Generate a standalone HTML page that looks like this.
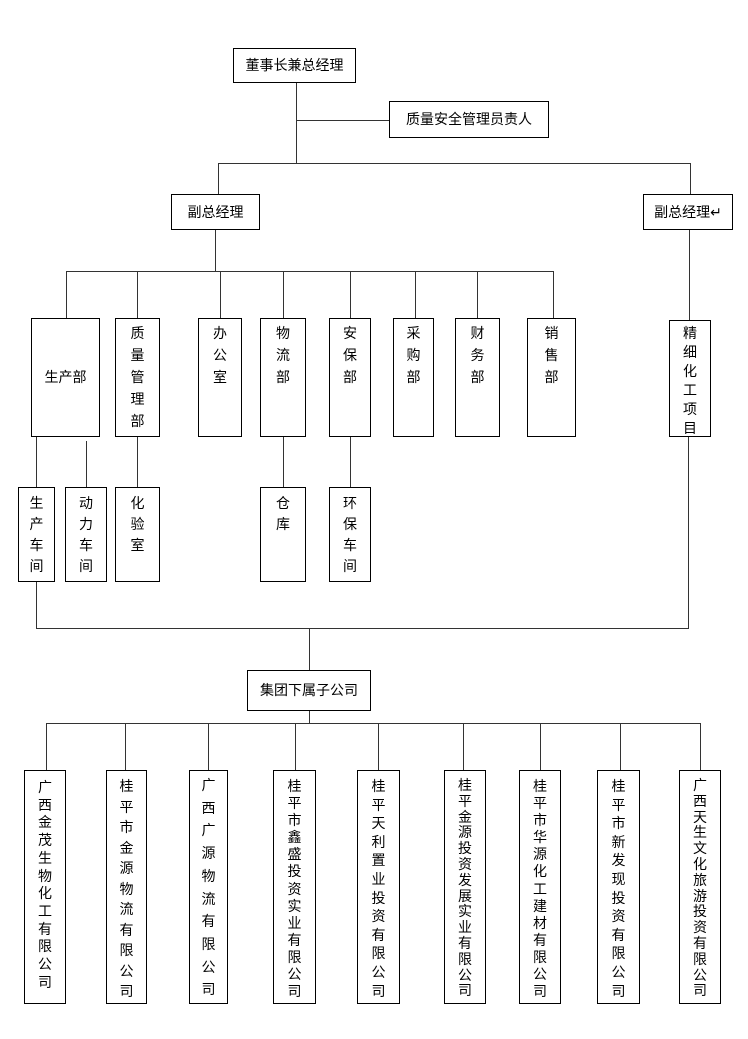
<!DOCTYPE html>
<html><head><meta charset="utf-8"><style>
body{margin:0;width:748px;height:1039px;background:#fff;position:relative;overflow:hidden;font-family:"Liberation Sans","Noto Sans CJK SC",sans-serif;font-size:14px;color:#000}
.b{position:absolute;border:1px solid #000;box-sizing:border-box;background:#fff;text-align:center}
.h{position:absolute;height:1px;background:#333}
.v{position:absolute;width:1px;background:#333}
.t{position:absolute;left:0;right:0;text-align:center}
</style></head><body>
<!-- lines -->
<div class="v" style="left:296px;top:82px;height:81px"></div>
<div class="h" style="left:296px;top:120px;width:93px"></div>
<div class="h" style="left:218px;top:163px;width:473px"></div>
<div class="v" style="left:218px;top:163px;height:31px"></div>
<div class="v" style="left:690px;top:163px;height:31px"></div>
<div class="v" style="left:215px;top:229px;height:42px"></div>
<div class="h" style="left:66px;top:271px;width:488px"></div>
<div class="v" style="left:66px;top:271px;height:47px"></div>
<div class="v" style="left:137px;top:271px;height:47px"></div>
<div class="v" style="left:220px;top:271px;height:47px"></div>
<div class="v" style="left:283px;top:271px;height:47px"></div>
<div class="v" style="left:350px;top:271px;height:47px"></div>
<div class="v" style="left:415px;top:271px;height:47px"></div>
<div class="v" style="left:477px;top:271px;height:47px"></div>
<div class="v" style="left:553px;top:271px;height:47px"></div>
<div class="v" style="left:689px;top:229px;height:91px"></div>
<div class="v" style="left:36px;top:436px;height:51px"></div>
<div class="v" style="left:86px;top:441px;height:46px"></div>
<div class="v" style="left:137px;top:436px;height:51px"></div>
<div class="v" style="left:283px;top:436px;height:51px"></div>
<div class="v" style="left:350px;top:436px;height:51px"></div>
<div class="v" style="left:36px;top:581px;height:47px"></div>
<div class="h" style="left:36px;top:628px;width:653px"></div>
<div class="v" style="left:688px;top:436px;height:192px"></div>
<div class="v" style="left:309px;top:628px;height:42px"></div>
<div class="v" style="left:309px;top:710px;height:13px"></div>
<div class="h" style="left:46px;top:723px;width:655px"></div>
<div class="v" style="left:46px;top:723px;height:47px"></div>
<div class="v" style="left:125px;top:723px;height:47px"></div>
<div class="v" style="left:208px;top:723px;height:47px"></div>
<div class="v" style="left:295px;top:723px;height:47px"></div>
<div class="v" style="left:378px;top:723px;height:47px"></div>
<div class="v" style="left:463px;top:723px;height:47px"></div>
<div class="v" style="left:540px;top:723px;height:47px"></div>
<div class="v" style="left:620px;top:723px;height:47px"></div>
<div class="v" style="left:700px;top:723px;height:47px"></div>

<!-- top boxes -->
<div class="b" style="left:233px;top:48px;width:123px;height:35px;line-height:33px">董事长兼总经理</div>
<div class="b" style="left:389px;top:101px;width:160px;height:37px;line-height:35px">质量安全管理员责人</div>
<div class="b" style="left:171px;top:194px;width:89px;height:36px;line-height:34px">副总经理</div>
<div class="b" style="left:643px;top:194px;width:90px;height:36px;line-height:34px">副总经理↵</div>

<!-- departments -->
<div class="b" style="left:31px;top:318px;width:69px;height:119px;line-height:117px">生产部</div>
<div class="b" style="left:115px;top:318px;width:45px;height:119px;line-height:22px;padding-top:3px">质<br>量<br>管<br>理<br>部</div>
<div class="b" style="left:198px;top:318px;width:44px;height:119px;line-height:22px;padding-top:3px">办<br>公<br>室</div>
<div class="b" style="left:260px;top:318px;width:46px;height:119px;line-height:22px;padding-top:3px">物<br>流<br>部</div>
<div class="b" style="left:329px;top:318px;width:42px;height:119px;line-height:22px;padding-top:3px">安<br>保<br>部</div>
<div class="b" style="left:393px;top:318px;width:41px;height:119px;line-height:22px;padding-top:3px">采<br>购<br>部</div>
<div class="b" style="left:455px;top:318px;width:45px;height:119px;line-height:22px;padding-top:3px">财<br>务<br>部</div>
<div class="b" style="left:527px;top:318px;width:49px;height:119px;line-height:22px;padding-top:3px">销<br>售<br>部</div>
<div class="b" style="left:669px;top:320px;width:42px;height:117px;line-height:19px;padding-top:3px">精<br>细<br>化<br>工<br>项<br>目</div>

<!-- sub -->
<div class="b" style="left:18px;top:487px;width:37px;height:95px;line-height:21px;padding-top:5px">生<br>产<br>车<br>间</div>
<div class="b" style="left:65px;top:487px;width:42px;height:95px;line-height:21px;padding-top:5px">动<br>力<br>车<br>间</div>
<div class="b" style="left:115px;top:487px;width:45px;height:95px;line-height:21px;padding-top:5px">化<br>验<br>室</div>
<div class="b" style="left:260px;top:487px;width:46px;height:95px;line-height:21px;padding-top:5px">仓<br>库</div>
<div class="b" style="left:329px;top:487px;width:42px;height:95px;line-height:21px;padding-top:5px">环<br>保<br>车<br>间</div>

<div class="b" style="left:247px;top:670px;width:124px;height:41px;line-height:39px">集团下属子公司</div>

<!-- companies -->
<div class="b" style="left:24px;top:770px;width:42px;height:234px;line-height:17.7px;padding-top:8px">广<br>西<br>金<br>茂<br>生<br>物<br>化<br>工<br>有<br>限<br>公<br>司</div>
<div class="b" style="left:106px;top:770px;width:41px;height:234px;line-height:20.5px;padding-top:5px">桂<br>平<br>市<br>金<br>源<br>物<br>流<br>有<br>限<br>公<br>司</div>
<div class="b" style="left:189px;top:770px;width:39px;height:234px;line-height:22.7px;padding-top:3px">广<br>西<br>广<br>源<br>物<br>流<br>有<br>限<br>公<br>司</div>
<div class="b" style="left:273px;top:770px;width:43px;height:234px;line-height:17.1px;padding-top:7px">桂<br>平<br>市<br>鑫<br>盛<br>投<br>资<br>实<br>业<br>有<br>限<br>公<br>司</div>
<div class="b" style="left:357px;top:770px;width:43px;height:234px;line-height:18.6px;padding-top:6px">桂<br>平<br>天<br>利<br>置<br>业<br>投<br>资<br>有<br>限<br>公<br>司</div>
<div class="b" style="left:444px;top:770px;width:42px;height:234px;line-height:15.8px;padding-top:7px">桂<br>平<br>金<br>源<br>投<br>资<br>发<br>展<br>实<br>业<br>有<br>限<br>公<br>司</div>
<div class="b" style="left:519px;top:770px;width:42px;height:234px;line-height:17.1px;padding-top:7px">桂<br>平<br>市<br>华<br>源<br>化<br>工<br>建<br>材<br>有<br>限<br>公<br>司</div>
<div class="b" style="left:597px;top:770px;width:43px;height:234px;line-height:18.6px;padding-top:6px">桂<br>平<br>市<br>新<br>发<br>现<br>投<br>资<br>有<br>限<br>公<br>司</div>
<div class="b" style="left:679px;top:770px;width:42px;height:234px;line-height:15.8px;padding-top:7px">广<br>西<br>天<br>生<br>文<br>化<br>旅<br>游<br>投<br>资<br>有<br>限<br>公<br>司</div>
</body></html>
